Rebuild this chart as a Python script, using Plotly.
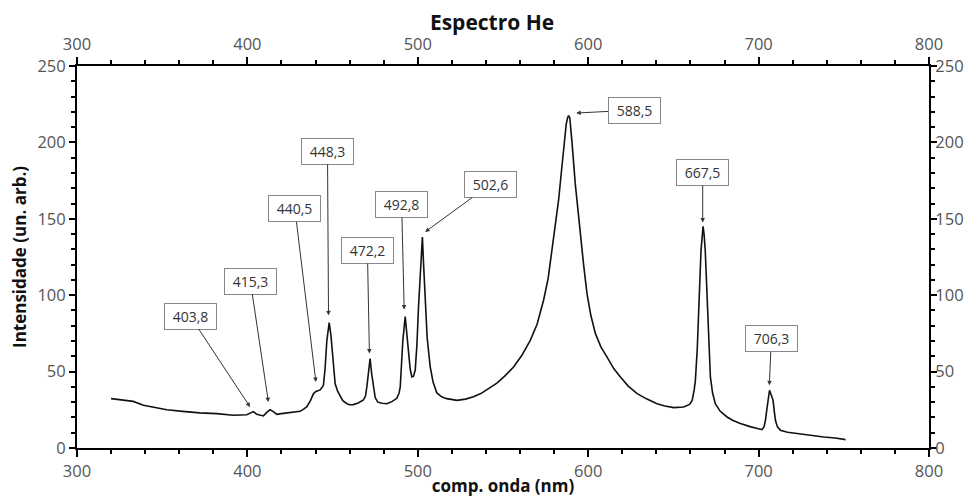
import plotly.graph_objects as go

# ---- data ----
wavelength = [
    320.0, 325, 333, 339, 345, 352.7, 362, 372, 382, 391.8, 399.6, 401.8, 403.5, 405.5,
    407.5, 409.4, 411.5, 413.3, 415.0, 417.3, 420, 423, 427, 431, 433, 434.9, 437,
    438.8, 440.2, 442.7, 444.6, 445.6, 446.6, 448.0, 449.0, 449.6, 450.5, 451.5, 453,
    454.4, 456, 458.4, 460, 462.2, 465, 468.1, 469.3, 470.1, 471, 472.0, 473, 474, 475,
    476.5, 479, 481.9, 485, 487.7, 489, 489.7, 490.5, 491.2, 492.6, 493.5, 494.5, 495.5,
    496.5, 497.5, 498.5, 499.5, 500.4, 501.5, 502.4, 502.7, 503.4, 504.4, 505.5, 507.3,
    509, 511.2, 514, 517, 520, 523, 528, 532.7, 537, 542, 546.4, 551, 556.2, 561, 566,
    570, 573.8, 576.5, 578.7, 580.8, 582.6, 584.2, 585.6, 587.1, 588.0, 588.5, 589.2, 589.6, 590.5,
    592.4, 594, 595.4, 597.3, 599.3, 601.5, 604.2, 607.5, 611, 615, 618.9, 623.5, 628.7,
    634.5, 640.4, 645, 650.2, 656, 659.5, 661, 662.2, 662.9, 664, 664.8, 665.5, 666.2,
    667.4, 668.0, 668.7, 669.4, 670.1, 671, 671.7, 673, 674.6, 677.5, 681.5, 685, 689.3,
    695, 700, 702, 703.2, 704, 704.8, 705.6, 706.4, 707.3, 708.5, 709.2, 709.9, 711,
    712.8, 717, 722.6, 730, 738.2, 745, 751,
]
intensity = [
    32.3, 31.5, 30.5, 28, 26.5, 25, 24, 23, 22.5, 21.4, 21.8, 23, 23.8, 22,
    21.3, 21, 23.5, 25, 24, 22, 22.5, 23, 23.3, 24, 25.5, 27, 31,
    35.6, 37, 38, 41, 52, 70, 82, 74, 66, 52, 42, 37,
    34.5, 31, 29, 28.3, 28.4, 29.5, 31.5, 34, 40, 50, 58.5, 48, 40, 33,
    30, 29.3, 29, 30.5, 32.5, 36, 40, 55, 70, 86, 76, 64, 52,
    46.5, 47, 51, 68, 92, 113, 130, 138, 120, 92, 72, 53,
    43, 36, 33.5, 32.3, 31.5, 31.2, 32, 33.5, 35.6, 39, 42.5, 47, 53, 60.5, 70.5,
    81, 96.7, 111, 129, 146, 162, 180, 195, 212, 216.5, 217.5, 216, 212, 200,
    173, 155, 140, 120, 101, 87, 75, 66, 59.6, 52, 46.5, 40.5, 35.6,
    32, 29, 27.5, 26.4, 26.8, 28.5, 31.2, 38, 44.3, 65, 85.7, 108, 129,
    145, 140, 129, 108, 85.7, 62, 46.5, 36, 29, 24, 20.3, 18, 16,
    14, 12.5, 12, 14, 18, 25, 31.2, 37.8, 35, 31.2, 24, 18, 14,
    11.6, 10.3, 9.4, 8.2, 7.2, 6.5, 5.5,
]

peak_labels = ["403,8", "415,3", "440,5", "448,3", "472,2", "492,8",
               "502,6", "588,5", "667,5", "706,3"]
peak_tip_x = [401.6, 412.3, 440.2, 447.6, 471.6, 492.0, 504.3, 593.0, 667.2, 706.3]
peak_tip_y = [26.8, 30.1, 43.2, 86.8, 61.8, 90.6, 141.4, 219.2, 147.5, 41.0]
# label box offsets from the arrow tip (pixels)
label_dx = [-60, -18, -21, -1, -2, -2.5, 65, 58, 0, 2]
label_dy = [-91, -121, -173, -164, -103, -105, -47.5, -3, -50, -46.5]

title_text = "Espectro He"
x_title = "comp. onda (nm)"
y_title = "Intensidade (un. arb.)"

FONT = "Open Sans"
TICKCOL = "#555555"

fig = go.Figure()
fig.add_trace(go.Scatter(
    x=wavelength, y=intensity, mode="lines",
    line=dict(color="#111111", width=1.6), showlegend=False, hoverinfo="x+y"))
# invisible copy to activate the top / right axes
fig.add_trace(go.Scatter(
    x=wavelength, y=intensity, mode="lines", xaxis="x2", yaxis="y2",
    line=dict(color="rgba(0,0,0,0)", width=0), showlegend=False, hoverinfo="skip"))

common_x = dict(
    range=[300, 800], dtick=100, tick0=300, ticks="outside", ticklen=7, tickwidth=1.5,
    tickcolor="black", showline=True, linewidth=2, linecolor="black",
    showgrid=False, zeroline=False, automargin=False,
    tickfont=dict(family=FONT, size=16.5, color=TICKCOL),
    minor=dict(dtick=20, ticks="outside", ticklen=4, tickwidth=1.5, tickcolor="black"),
)
common_y = dict(
    range=[0, 250], dtick=50, tick0=0, ticks="outside", ticklen=6, tickwidth=1.5,
    tickcolor="black", showline=True, linewidth=2, linecolor="black",
    showgrid=False, zeroline=False, automargin=False,
    tickfont=dict(family=FONT, size=16.5, color=TICKCOL),
    minor=dict(dtick=10, ticks="outside", ticklen=4, tickwidth=1.5, tickcolor="black"),
)

# the page body adds an 8px offset, so the figure is sized to fit the window
fig.update_layout(
    width=965, height=489,
    margin=dict(l=69, r=44, t=58, b=49, autoexpand=False),
    paper_bgcolor="white", plot_bgcolor="white",
    font=dict(family=FONT, color="black"),
    title=dict(text=title_text, x=0.5016, xref="container", xanchor="center",
               y=0.9693, yref="container", yanchor="middle", automargin=False,
               font=dict(family=FONT, size=21, color="#111111", weight=700)),
    xaxis=dict(**common_x, title=dict(text=x_title, standoff=4,
               font=dict(family=FONT, size=17, color="#111111", weight=700))),
    yaxis=dict(**common_y, title=dict(text=y_title, standoff=6,
               font=dict(family=FONT, size=17, color="#111111", weight=700))),
    xaxis2=dict(**common_x, overlaying="x", side="top", anchor="y"),
    yaxis2=dict(**common_y, overlaying="y", side="right", anchor="x",
                ticklabelstandoff=-5),
    showlegend=False,
)

for lab, tx, ty, dx, dy in zip(peak_labels, peak_tip_x, peak_tip_y, label_dx, label_dy):
    fig.add_annotation(
        x=tx, y=ty, xref="x", yref="y", text=lab, showarrow=True,
        ax=dx, ay=dy, axref="pixel", ayref="pixel",
        arrowhead=2, arrowsize=0.9, arrowwidth=1, arrowcolor="#333333",
        font=dict(family=FONT, size=14, color="#333333"),
        bgcolor="white", bordercolor="#888888", borderwidth=1, borderpad=3,
        width=45, height=19, align="center",
    )

fig.write_html("out.html")
